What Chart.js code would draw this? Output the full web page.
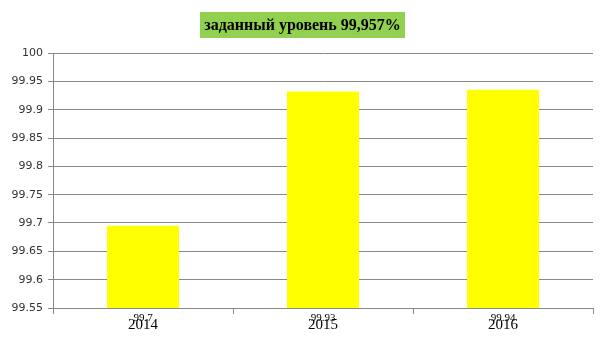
<!DOCTYPE html>
<html>
<head>
<meta charset="utf-8">
<script src="https://cdn.jsdelivr.net/npm/chart.js@4/dist/chart.umd.min.js"></script>
<style>
html,body{margin:0;padding:0;background:#fff;}
#wrap{width:605px;height:340px;}
</style>
</head>
<body>
<div id="wrap"><canvas id="c" width="605" height="340"></canvas></div>
<script>
const titleText = "заданный уровень 99,957%";
const categories = ["2014", "2015", "2016"];
const values = [99.695, 99.932, 99.935];
const valueLabels = ["99.7", "99.93", "99.94"];
const yMin = 99.55, yMax = 100, yStep = 0.05;

const titleBox = {
  id: 'titleBox',
  afterDraw(chart) {
    const ctx = chart.ctx;
    ctx.save();
    ctx.font = "bold 16px 'Liberation Serif'";
    const w = ctx.measureText(titleText).width;
    const cx = chart.width / 2;
    const cy = 25;
    ctx.fillStyle = '#92d050';
    ctx.fillRect(Math.round(cx - w / 2 - 4), Math.round(cy - 13), Math.round(w + 8), 26);
    ctx.fillStyle = '#000';
    ctx.textAlign = 'center';
    ctx.textBaseline = 'middle';
    ctx.fillText(titleText, cx, cy + 1);
    ctx.restore();
  }
};

const dataLabels = {
  id: 'dataLabels',
  afterDatasetsDraw(chart) {
    const ctx = chart.ctx;
    const meta = chart.getDatasetMeta(0);
    ctx.save();
    ctx.font = "11px 'Liberation Serif'";
    ctx.fillStyle = '#000';
    ctx.textAlign = 'center';
    ctx.textBaseline = 'middle';
    meta.data.forEach((bar, i) => {
      ctx.fillText(valueLabels[i], bar.x, chart.chartArea.bottom + 10);
    });
    ctx.restore();
  }
};

new Chart(document.getElementById('c'), {
  type: 'bar',
  data: {
    labels: categories,
    datasets: [{
      data: values,
      backgroundColor: '#ffff00',
      borderWidth: 0,
      categoryPercentage: 1,
      barPercentage: 0.4
    }]
  },
  options: {
    responsive: false,
    animation: false,
    layout: { padding: { left: 0, right: 12, top: 53, bottom: 4 } },
    plugins: {
      legend: { display: false },
      tooltip: { enabled: false },
      title: { display: false }
    },
    scales: {
      x: {
        offset: true,
        grid: {
          offset: true,
          drawOnChartArea: false,
          drawTicks: true,
          tickLength: 6,
          color: '#888'
        },
        border: { color: '#888', width: 1 },
        ticks: {
          color: '#000',
          font: { family: "'Liberation Serif'", size: 15 },
          padding: 2,
          maxRotation: 0
        }
      },
      y: {
        min: yMin,
        max: yMax,
        afterFit(scale) { scale.width = 53; },
        grid: {
          color: '#888',
          tickLength: 5,
          drawTicks: true
        },
        border: { color: '#888', width: 1 },
        ticks: {
          stepSize: yStep,
          color: '#333',
          font: { family: "'DejaVu Sans'", size: 11 },
          padding: 5,
          callback: (v) => String(Number(v.toFixed(2)))
        }
      }
    }
  },
  plugins: [titleBox, dataLabels]
});
</script>
</body>
</html>
